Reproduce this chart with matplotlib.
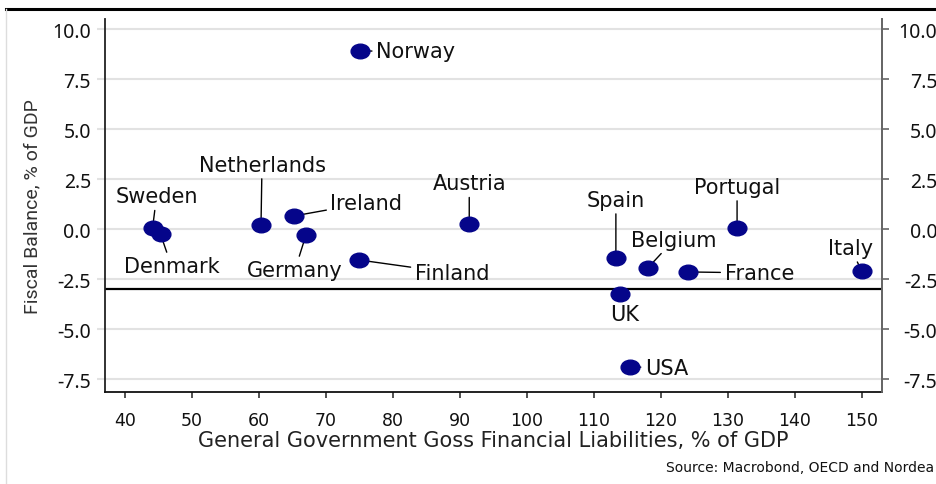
import matplotlib
matplotlib.use('Agg')
import matplotlib.pyplot as plt
from matplotlib.path import Path
from matplotlib.lines import Line2D

# Datos
paises = ['Norway', 'Sweden', 'Denmark', 'Netherlands', 'Ireland', 'Germany', 'Finland',
          'Austria', 'Spain', 'Belgium', 'France', 'Portugal', 'Italy', 'UK', 'USA']
deuda = [75.1, 44.1, 45.3, 60.3, 65.3, 67.0, 74.9, 91.4, 113.3, 118.1, 124.0, 131.4, 150.0, 113.9, 115.4]
balance = [8.9, 0.05, -0.25, 0.23, 0.67, -0.3, -1.53, 0.25, -1.42, -1.92, -2.13, 0.08, -2.08, -3.25, -6.87]
limite = -3.0
yticks = [-7.5, -5.0, -2.5, 0.0, 2.5, 5.0, 7.5, 10.0]
xticks = list(range(40, 151, 10))

# posicion de las etiquetas (pixeles desde el punto) y alineacion
etiquetas = {
    'Norway': (16, 2, 'left'),
    'Sweden': (4, 34, 'center'),
    'Denmark': (11, -30, 'center'),
    'Netherlands': (1, 62, 'center'),
    'Ireland': (36, 15, 'left'),
    'Germany': (-11, -33, 'center'),
    'Finland': (56, -11, 'left'),
    'Austria': (0, 43, 'center'),
    'Spain': (0, 60, 'center'),
    'Belgium': (26, 30, 'center'),
    'France': (37, 1, 'left'),
    'Portugal': (0, 43, 'center'),
    'Italy': (-11, 25, 'center'),
    'UK': (5, -18, 'center'),
    'USA': (15, 1, 'left'),
}

fuente = 'DejaVu Sans'
fuente_ticks = 'Noto Sans'
azul = '#05058a'
gris_grid = '#e2e2e2'

fig = plt.figure(figsize=(9.37, 4.85), dpi=100)
ax = fig.add_axes([105 / 937, 1 - 392.5 / 485, (881.7 - 105) / 937, (392.5 - 20) / 485])

ax.set_xlim(37, 153)
ax.set_ylim(-8.1, 10.5)
ax.set_yticks(yticks)
ax.set_xticks(xticks)
ax.set_yticklabels(['%.1f' % v for v in yticks])
ax.grid(axis='y', color=gris_grid, lw=1.5, zorder=0)
ax.set_axisbelow(True)

ax.axhline(limite, color='black', lw=1.6, zorder=2)

# marcador eliptico
circ = Path.unit_circle()
elipse = Path(circ.vertices * [1, 0.78], circ.codes)
ax.plot(deuda, balance, linestyle='none', marker=elipse, ms=13.5,
        color=azul, mec=azul, zorder=5)

for nombre, x, y in zip(paises, deuda, balance):
    dx, dy, ha = etiquetas[nombre]
    ax.annotate(nombre, xy=(x, y), xytext=(dx, dy), textcoords='offset pixels',
                ha=ha, va='center_baseline', fontsize=15, family=fuente, color='#111111',
                arrowprops=dict(arrowstyle='-', color='black', lw=1, shrinkA=1, shrinkB=0),
                zorder=4)

ax.spines['top'].set_visible(False)
ax.spines['left'].set_color('#222222')
ax.spines['bottom'].set_color('#111111')
ax.spines['right'].set_color('#666666')
for s in ['left', 'bottom', 'right']:
    ax.spines[s].set_linewidth(1.3)

ax.tick_params(axis='y', left=True, length=6, width=1.5, color=gris_grid, pad=4,
               labelsize=14, labelcolor='#111111')
ax.tick_params(axis='x', length=4, width=1.2, color='#333333', pad=10,
               labelsize=12.5, labelcolor='#111111')
for t in ax.get_yticklabels():
    t.set_family(fuente_ticks)
for t in ax.get_xticklabels():
    t.set_family(fuente)

# eje derecho con las mismas etiquetas
ax2 = ax.twinx()
ax2.set_ylim(ax.get_ylim())
ax2.set_yticks(yticks)
ax2.set_yticklabels(['%.1f' % v for v in yticks])
ax2.tick_params(axis='y', length=5, width=1.2, color='#666666', pad=35,
                labelsize=14, labelcolor='#111111')
for t in ax2.get_yticklabels():
    t.set_family(fuente_ticks)
    t.set_ha('right')
for s in ['top', 'left', 'bottom']:
    ax2.spines[s].set_visible(False)
ax2.spines['right'].set_color('#666666')
ax2.spines['right'].set_linewidth(1.3)

ax.set_xlabel('General Government Goss Financial Liabilities, % of GDP',
              fontsize=15, family=fuente, color='#222222', labelpad=1)
ax.set_ylabel('Fiscal Balance, % of GDP', fontsize=14,
              family='Roboto', color='#333333', labelpad=8)

fig.text(934 / 937, 1 - 468 / 485, 'Source: Macrobond, OECD and Nordea', ha='right', va='center',
         fontsize=10, family=fuente, color='#111111')

# marco: linea negra arriba y borde gris a la izquierda
fig.add_artist(Line2D([6 / 937, 1], [1 - 10 / 485] * 2, color='black', lw=2.2))
fig.add_artist(Line2D([6 / 937] * 2, [0, 1 - 10 / 485], color='#dddddd', lw=1))

fig.savefig('out.png', dpi=100)
